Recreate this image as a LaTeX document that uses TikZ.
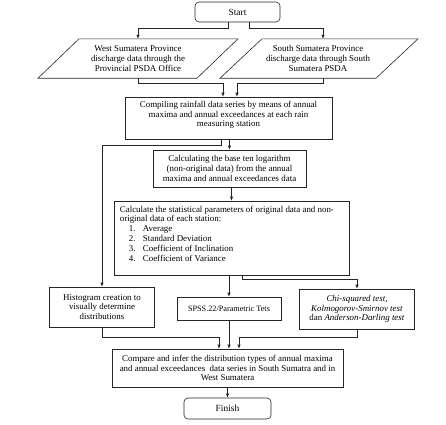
\documentclass[tikz,border=0pt]{standalone}
\usepackage{fontspec}
\setmainfont{Liberation Serif}
\usetikzlibrary{arrows.meta,calc}
\begin{document}
\begin{tikzpicture}[x=1pt,y=-1pt,
  lc/.style={draw=black!85, line width=0.6pt},
  txtfont/.style={font=\fontsize{8.9}{9.8}\selectfont},
  box/.style={lc, inner sep=1pt, align=center, txtfont},
  rbox/.style={box, rounded corners=4pt, font=\fontsize{9.4}{10}\selectfont},
  ptxt/.style={inner sep=0pt, align=center, txtfont},
  arr/.style={lc, -{Latex[length=4pt,width=3.4pt]}}]
\useasboundingbox (0,0) rectangle (446,424);

% Start
\node[rbox, minimum width=85pt, minimum height=20pt] (start) at (237.5,12) {Start};

% Parallelograms
\node[ptxt, minimum width=120pt, minimum height=39pt] (wsp) at (138,58.5)
  {West Sumatera Province\\discharge data through the\\Provincial PSDA Office};
\draw[lc] ($(wsp.north)+(-59,0)$) -- ($(wsp.north)+(100,0)$) -- ($(wsp.south)+(59,0)$) -- ($(wsp.south)+(-100,0)$) -- cycle;

\node[ptxt, minimum width=120pt, minimum height=39pt] (ssp) at (318,58.5)
  {South Sumatera Province\\discharge data through South\\Sumatera PSDA};
\draw[lc] ($(ssp.north)+(-56,0)$) -- ($(ssp.north)+(100,0)$) -- ($(ssp.south)+(58,0)$) -- ($(ssp.south)+(-98,0)$) -- cycle;

% Compiling
\node[box, minimum width=207pt, minimum height=42pt] (comp) at (228.5,118) {};
\node[ptxt] (comptxt) at (228.5,115)
  {Compiling rainfall data series by means of annual\\maxima and annual exceedances at each rain\\measuring station};

% Calculating log
\node[box, minimum width=153pt, minimum height=37pt] (calc) at (229.5,168.5)
  {Calculating the base ten logarithm\\(non-original data) from the annual\\maxima and annual exceedances data};

% Statistical parameters
\node[lc, minimum width=235pt, minimum height=74pt, inner sep=0pt] (stats) at (231.5,238) {};
\node[ptxt, anchor=north west, align=left] (statstxt) at ($(stats.north west)+(6,5)$)
  {Calculate the statistical parameters of original data and non-\\
   original data of each station:\\
   \hspace*{9pt}\makebox[14pt][l]{1.}Average\\
   \hspace*{9pt}\makebox[14pt][l]{2.}Standard Deviation\\
   \hspace*{9pt}\makebox[14pt][l]{3.}Coefficient of Inclination\\
   \hspace*{9pt}\makebox[14pt][l]{4.}Coefficient of Variance};

% Three middle boxes
\node[box, minimum width=105pt, minimum height=40pt] (hist) at (102,307)
  {Histogram creation to\\visually determine\\distributions};
\node[box, minimum width=104pt, minimum height=23pt, font=\fontsize{8.2}{9}\selectfont] (spss) at (229,308.5)
  {SPSS.22/Parametric Tets};
\node[box, minimum width=115pt, minimum height=40pt] (chi) at (357,309)
  {\textit{Chi-squared test,}\\\textit{Kolmogorov-Smirnov test}\\dan \textit{Anderson-Darling test}};

% Compare
\node[box, minimum width=231pt, minimum height=38pt] (cmp) at (227.5,368)
  {Compare and infer the distribution types of annual maxima\\and annual exceedances\ \ data series in South Sumatra and in\\West Sumatera};

% Finish
\node[rbox, minimum width=87pt, minimum height=21pt] (fin) at (227.5,408.5) {Finish};

% Connectors
\draw[arr] ($(start.south)+(-9.5,0)$) -- ++(0,6) -| (wsp.north);
\draw[arr] ($(start.south)+(11.5,0)$) -- ++(0,6) -| ($(ssp.north)+(5,0)$);
\draw[arr] (wsp.south) -- ++(0,5) -| ($(comp.north)+(-5.5,0)$);
\draw[arr] ($(ssp.south)+(5,0)$) -- ++(0,5) -| ($(comp.north)+(8.5,0)$);
\draw[arr] (calc.north |- comp.south) -- (calc.north);
\draw[arr] ($(comp.south)+(-7.5,0)$) -- ++(0,6) -| (hist.north);
\draw[arr] (stats.north |- calc.south) -- (stats.north);
\draw[arr] (spss.north |- stats.south) -- (spss.north);
\draw[arr] ($(stats.south)+(10.5,0)$) -- ++(0,4) -| (chi.north);
\draw[arr] (hist.south) -- ++(0,10) -| ($(cmp.north)+(-8.5,0)$);
\draw[arr] (spss.south) -- (spss.south |- cmp.north);
\draw[arr] (chi.south) -- ++(0,8) -| ($(cmp.north)+(11.5,0)$);
\draw[arr] (cmp.south) -- (fin.north);
\end{tikzpicture}
\end{document}
